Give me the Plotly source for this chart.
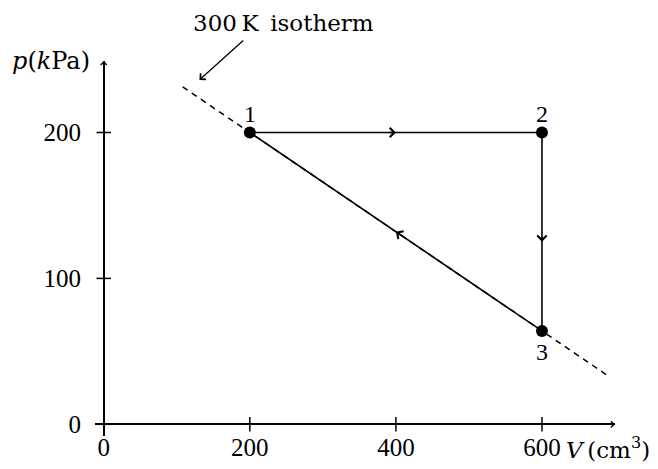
import plotly.graph_objects as go

# Data
V_states = [200, 600, 600]          # cm^3, states 1, 2, 3
p_states = [200, 200, 64]           # kPa
state_labels = ["1", "2", "3"]
iso_V = [108, 693]                  # extent of dashed 300 K isotherm line
x_ticks = [0, 200, 400, 600]
y_ticks = [0, 100, 200]
x_max, y_max = 700, 249
x_min, y_min = -12, -8              # small room so axis crossings stay inside

NUM_FONT = "Liberation Serif"
TXT_FONT = "DejaVu Serif"
BLACK = "black"

fig = go.Figure()

# isotherm line through states 1 and 3
slope = (p_states[2] - p_states[0]) / (V_states[2] - V_states[0])
iso_p = [p_states[0] + slope * (v - V_states[0]) for v in iso_V]
fig.add_trace(go.Scatter(x=iso_V, y=iso_p, mode="lines",
                         line=dict(color=BLACK, width=1.5, dash="6px,5px"),
                         hoverinfo="skip", cliponaxis=False))

# cycle 1 -> 2 -> 3 -> 1
cx = V_states + [V_states[0]]
cy = p_states + [p_states[0]]
fig.add_trace(go.Scatter(x=cx, y=cy, mode="lines",
                         line=dict(color=BLACK, width=1.6), cliponaxis=False))
fig.add_trace(go.Scatter(x=V_states, y=p_states, mode="markers",
                         marker=dict(color=BLACK, size=12), cliponaxis=False))

# crossing tick marks on the axes (short segments through each tick value)
tick_half_p = 5      # kPa
tick_half_V = 10     # cm^3
tx_x, tx_y = [], []
for t in x_ticks:
    tx_x += [t, t, None]
    tx_y += [-tick_half_p, tick_half_p, None]
ty_x, ty_y = [], []
for t in y_ticks:
    ty_x += [-tick_half_V, tick_half_V, None]
    ty_y += [t, t, None]
fig.add_trace(go.Scatter(x=tx_x + ty_x, y=tx_y + ty_y, mode="lines",
                         line=dict(color=BLACK, width=1.5),
                         connectgaps=False, hoverinfo="skip"))

ann = []
# state labels
offs = [19, 19, -21]
for v, p, t, o in zip(V_states, p_states, state_labels, offs):
    ann.append(dict(x=v, y=p, text=t, showarrow=False, yshift=o,
                    font=dict(family=NUM_FONT, size=24, color=BLACK)))

# direction arrows along each segment
fracs = [0.5, 0.55, 0.5]
for i in range(3):
    x0, y0 = cx[i], cy[i]
    x1, y1 = cx[i + 1], cy[i + 1]
    f = fracs[i]
    mx, my = x0 + (x1 - x0) * f, y0 + (y1 - y0) * f
    ax_, ay_ = mx - (x1 - x0) * 0.03, my - (y1 - y0) * 0.03
    ann.append(dict(x=mx, y=my, ax=ax_, ay=ay_, xref="x", yref="y",
                    axref="x", ayref="y", text="", showarrow=True,
                    arrowhead=4, arrowsize=1.3, arrowwidth=1.4,
                    arrowcolor=BLACK, standoff=0))

# axis arrowheads
ann.append(dict(x=x_max, y=0, ax=x_max - 10, ay=0, axref="x", ayref="y",
                text="", showarrow=True, arrowhead=4, arrowsize=1,
                arrowwidth=1.2, arrowcolor=BLACK, standoff=0))
ann.append(dict(x=0, y=y_max, ax=0, ay=y_max - 8, axref="x", ayref="y",
                text="", showarrow=True, arrowhead=4, arrowsize=1,
                arrowwidth=1.2, arrowcolor=BLACK, standoff=0))

# axis titles
ann.append(dict(x=630, y=0, xanchor="left", yanchor="middle", yshift=-24,
                text="<i>V</i>\u2009(cm<sup>3</sup>)", showarrow=False,
                font=dict(family=TXT_FONT, size=23, color=BLACK)))
ann.append(dict(x=0, y=1.0, xref="x", yref="paper", xanchor="right",
                yanchor="middle", xshift=-12,
                text="<i>p</i>(<i>k</i>Pa)", showarrow=False,
                font=dict(family=TXT_FONT, size=24, color=BLACK)))

# isotherm label + pointer
ann.append(dict(x=246, y=1.10, xref="x", yref="paper", yanchor="middle",
                text="300\u2009K\u2002isotherm", showarrow=False,
                font=dict(family=TXT_FONT, size=23, color=BLACK)))
ann.append(dict(x=131, y=236, ax=193, ay=264, axref="x", ayref="y",
                text="", showarrow=True, arrowhead=4, arrowsize=1.2,
                arrowwidth=1.3, arrowcolor=BLACK, standoff=0))

fig.update_layout(
    width=658, height=469,
    margin=dict(l=95, r=43, t=61, b=33),
    paper_bgcolor="white", plot_bgcolor="white",
    showlegend=False,
    annotations=ann,
    font=dict(family=NUM_FONT, size=25, color=BLACK),
)
fig.update_xaxes(range=[x_min, x_max], tickvals=x_ticks, ticks="",
                 showgrid=False, showline=False, automargin=False,
                 zeroline=True, zerolinecolor=BLACK, zerolinewidth=1.5,
                 ticklabelstandoff=-6)
fig.update_yaxes(range=[y_min, y_max], tickvals=y_ticks, ticks="",
                 showgrid=False, showline=False, automargin=False,
                 zeroline=True, zerolinecolor=BLACK, zerolinewidth=1.5,
                 ticklabelstandoff=13)

fig.write_html("out.html", config={"displayModeBar": False},
               post_script="document.body.style.margin='0';")
